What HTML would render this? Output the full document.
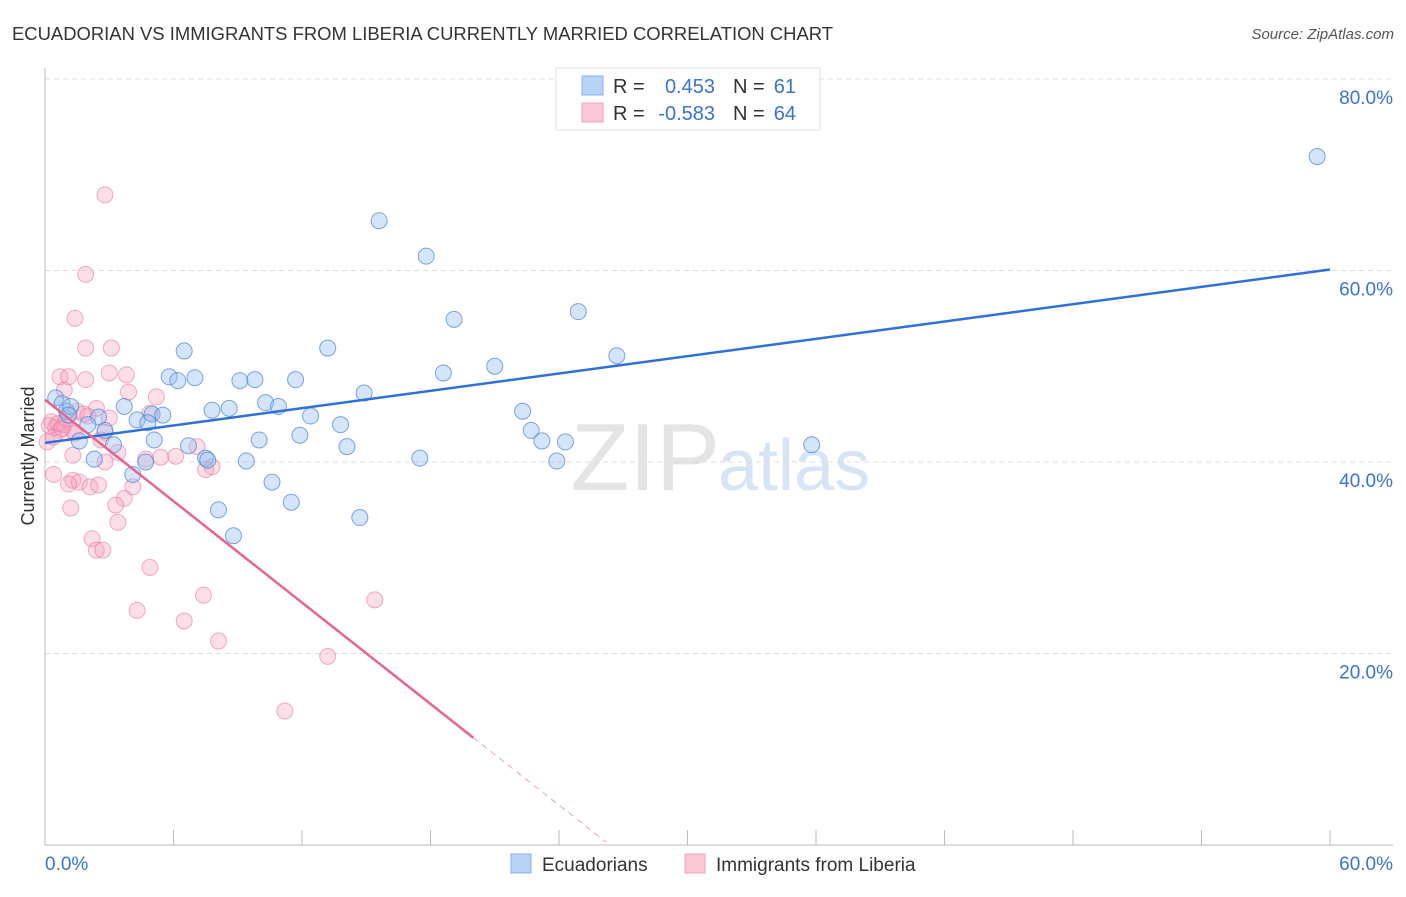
<!DOCTYPE html>
<html><head><meta charset="utf-8"><style>
body{margin:0;background:#fff;font-family:"Liberation Sans",sans-serif;}
svg text{font-family:"Liberation Sans",sans-serif;}
</style></head><body>
<svg id="chart" width="1406" height="892" xmlns="http://www.w3.org/2000/svg">
<text x="12" y="40" font-size="18" fill="#333" textLength="821" lengthAdjust="spacingAndGlyphs">ECUADORIAN VS IMMIGRANTS FROM LIBERIA CURRENTLY MARRIED CORRELATION CHART</text>
<text x="1394" y="39" font-size="15" fill="#555" font-style="italic" text-anchor="end">Source: ZipAtlas.com</text>
<text x="720" y="490" font-size="96" fill="#e4e4e4" text-anchor="end" font-family="Liberation Serif">ZIP</text>
<text x="718" y="490" font-size="72" fill="#d6e4f5">atlas</text>
<g id="grid"></g>
<g id="pts"></g>
<g id="trends"></g>
<text x="34" y="456" font-size="18" fill="#333" text-anchor="middle" transform="rotate(-90 34 456)">Currently Married</text>
<g>
<rect x="556" y="68" width="264" height="62" fill="#fff" stroke="#ddd"/>
<rect x="582" y="76" width="21" height="19" fill="#b8d3f5" stroke="#8ab2e8"/>
<rect x="582" y="103" width="21" height="19" fill="#fac8d7" stroke="#f0a0b8"/>
<text x="613" y="93" font-size="20" fill="#333">R =</text><text x="715" y="93" font-size="20" fill="#3a73d0" text-anchor="end">0.453</text>
<text x="733" y="93" font-size="20" fill="#333">N =</text><text x="796" y="93" font-size="20" fill="#3a73d0" text-anchor="end">61</text>
<text x="613" y="120" font-size="20" fill="#333">R =</text><text x="715" y="120" font-size="20" fill="#3a73d0" text-anchor="end">-0.583</text>
<text x="733" y="120" font-size="20" fill="#333">N =</text><text x="796" y="120" font-size="20" fill="#3a73d0" text-anchor="end">64</text>
</g>
<g>
<rect x="511" y="854" width="20" height="19" fill="#b8d3f5" stroke="#8ab2e8"/>
<text x="542" y="871" font-size="19" fill="#333">Ecuadorians</text>
<rect x="685" y="854" width="20" height="19" fill="#fac8d7" stroke="#f0a0b8"/>
<text x="716" y="871" font-size="19" fill="#333">Immigrants from Liberia</text>
</g>
</svg>
<script>
const blueX=[59.4,15.6,17.8,24.9,19.1,26.7,13.2,6.5,21.0,18.6,5.8,6.2,7.0,9.1,9.8,11.7,14.9,10.3,10.9,7.8,8.6,3.7,5.0,5.5,2.5,12.4,22.3,13.8,22.7,4.3,4.8,11.9,23.2,24.3,35.8,5.1,10.0,6.7,14.1,3.2,1.6,7.5,7.6,17.5,23.9,9.4,4.7,2.3,4.1,10.6,11.5,8.1,14.7,8.8,0.5,0.8,1.0,1.2,2.0,2.8,1.1];
const blueY=[71.9,65.2,61.5,55.7,54.9,51.1,51.9,51.6,50.0,49.3,48.9,48.5,48.8,48.5,48.6,48.6,47.2,46.2,45.8,45.4,45.6,45.8,45.0,44.9,44.7,44.8,45.3,43.9,43.3,44.4,44.1,42.8,42.2,42.1,41.8,42.3,42.3,41.7,41.6,41.8,42.2,40.4,40.2,40.4,40.1,40.1,40.0,40.3,38.7,37.9,35.8,35.0,34.2,32.3,46.7,46.1,45.3,45.8,43.9,43.3,44.9];
const pinkX=[2.8,1.9,1.4,1.9,3.1,0.7,1.1,1.9,3.0,3.8,0.9,3.9,5.2,2.4,1.5,1.8,3.0,4.9,0.3,0.5,0.7,0.9,1.3,0.1,2.8,2.6,7.1,3.4,1.3,4.7,5.4,6.1,2.8,7.8,7.5,0.4,1.3,1.6,1.1,2.1,2.5,4.1,3.7,3.3,1.2,3.4,2.2,2.4,2.7,4.9,7.4,15.4,4.3,6.5,8.1,13.2,11.2,0.2,0.6,1.0,1.4,0.4,2.0,0.8];
const pinkY=[67.9,59.6,55.0,51.9,51.9,48.9,48.9,48.6,49.3,49.1,47.5,47.3,46.8,45.6,45.3,45.0,44.6,45.1,44.2,43.6,43.3,43.9,43.3,42.1,43.1,42.3,41.6,41.0,40.7,40.3,40.5,40.6,40.0,39.5,39.2,38.7,38.1,37.9,37.7,37.4,37.6,37.4,36.2,35.5,35.2,33.7,32.0,30.8,30.8,29.0,26.1,25.6,24.5,23.4,21.3,19.7,14.0,43.8,44.0,44.5,43.0,42.6,44.8,43.5];
const blueTrend=[[0,42.0],[60,60.1]];
const pinkTrend=[[0,46.5],[20,11.2]];
const pinkDash=[[20,11.2],[26.2,0.3]];
const yTicks=[20,40,60,80];
const xTicks=[0,6,12,18,24,30,36,42,48,54,60];
const NS="http://www.w3.org/2000/svg";
const sx=v=>45+v/60*1285, sy=v=>845-v/80*766;
function mk(tag,attrs,parent){const e=document.createElementNS(NS,tag);for(const k in attrs)e.setAttribute(k,attrs[k]);parent.appendChild(e);return e;}
const grid=document.getElementById('grid');
yTicks.forEach(t=>{
 const l=mk('line',{x1:45,x2:1393,y1:sy(t),y2:sy(t),stroke:'#ddd','stroke-dasharray':'5,4'},grid);
 
 
 const tx=mk('text',{x:1393,y:sy(t)+25,'font-size':19,fill:'#3a73d0','text-anchor':'end'},grid);tx.textContent=t.toFixed(1)+'%';
 
 
});
mk('line',{x1:45,x2:45,y1:68,y2:845,stroke:'#bbb'},grid);
mk('line',{x1:45,x2:1393,y1:845,y2:845,stroke:'#bbb'},grid);
xTicks.forEach(t=>{const l=mk('line',{x1:sx(t),x2:sx(t),y1:830,y2:845,stroke:'#bbb'},grid);
 
 });
[[0,45,'start'],[60,1393,'end']].forEach(([v,x,a])=>{const tx=mk('text',{x:x,y:870,'font-size':19,fill:'#3a73d0','text-anchor':a},grid);tx.textContent=v.toFixed(1)+'%';
 
 });
const pts=document.getElementById('pts');
pinkX.forEach((x,i)=>{const c=mk('circle',{cx:sx(x),cy:sy(pinkY[i]),r:8,fill:'rgba(245,160,188,0.35)',stroke:'rgba(232,120,155,0.6)','stroke-width':1},pts);
 
 });
blueX.forEach((x,i)=>{const c=mk('circle',{cx:sx(x),cy:sy(blueY[i]),r:8,fill:'rgba(150,190,240,0.4)',stroke:'rgba(70,130,215,0.7)','stroke-width':1},pts);
 
 });
const tr=document.getElementById('trends');
const b=mk('line',{x1:sx(blueTrend[0][0]),y1:sy(blueTrend[0][1]),x2:sx(blueTrend[1][0]),y2:sy(blueTrend[1][1]),stroke:'#2f6fd6','stroke-width':2.5},tr);


const p=mk('line',{x1:sx(pinkTrend[0][0]),y1:sy(pinkTrend[0][1]),x2:sx(pinkTrend[1][0]),y2:sy(pinkTrend[1][1]),stroke:'#e8648f','stroke-width':2.5},tr);


const pd=mk('line',{x1:sx(pinkDash[0][0]),y1:sy(pinkDash[0][1]),x2:sx(pinkDash[1][0]),y2:sy(pinkDash[1][1]),stroke:'#f0a0b8','stroke-width':1,'stroke-dasharray':'6,5'},tr);


</script>
</body></html>
